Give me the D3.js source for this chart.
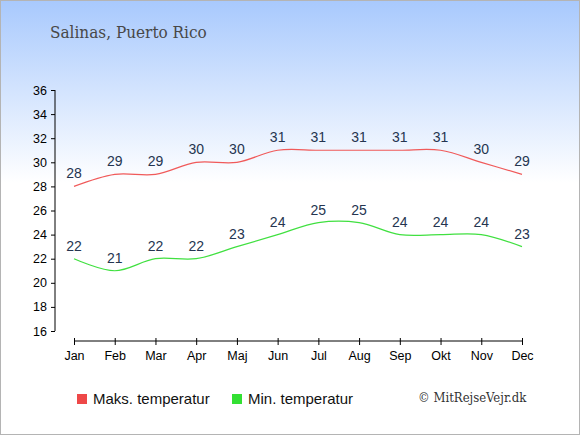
<!DOCTYPE html>
<html>
<head>
<meta charset="utf-8">
<script src="https://cdn.jsdelivr.net/npm/d3@7"></script>
<style>
  body { margin: 0; }
  svg { display: block; }
</style>
</head>
<body>
<svg id="chart"></svg>
<script>
const months = ['Jan', 'Feb', 'Mar', 'Apr', 'Maj', 'Jun', 'Jul', 'Aug', 'Sep', 'Okt', 'Nov', 'Dec'];
const maxTemp = [28, 29, 29, 30, 30, 31, 31, 31, 31, 31, 30, 29];
const minTemp = [22, 21, 22, 22, 23, 24, 25, 25, 24, 24, 24, 23];
const yTicks = [16, 18, 20, 22, 24, 26, 28, 30, 32, 34, 36];

const width = 580, height = 435;

const svg = d3.select('#chart')
    .attr('width', width)
    .attr('height', height);

// background gradient
const grad = svg.append('defs').append('linearGradient')
    .attr('id', 'bg')
    .attr('x1', 0).attr('y1', 0).attr('x2', 0).attr('y2', 1);
grad.append('stop').attr('offset', '0%').attr('stop-color', '#a8c9fd');
grad.append('stop').attr('offset', '42%').attr('stop-color', '#ffffff');
grad.append('stop').attr('offset', '100%').attr('stop-color', '#ffffff');

svg.append('rect')
    .attr('x', 0.5).attr('y', 0.5)
    .attr('width', width - 1).attr('height', height - 1)
    .attr('fill', 'url(#bg)')
    .attr('stroke', '#b4b4b4');

svg.append('text')
    .attr('x', 50).attr('y', 38)
    .attr('font-family', 'DejaVu Serif, serif')
    .attr('font-stretch', 'condensed')
    .attr('font-size', 17)
    .attr('fill', '#484848')
    .text('Salinas, Puerto Rico');

const xScale = d3.scalePoint()
    .domain(months)
    .range([74, 522]);

const yScale = d3.scaleLinear()
    .domain([16, 36])
    .range([331, 90]);

const yAxis = d3.axisLeft(yScale)
    .tickValues(yTicks)
    .tickSize(4)
    .tickPadding(4);

const xAxis = d3.axisBottom(xScale)
    .tickSize(4)
    .tickPadding(6);

svg.append('g')
    .attr('class', 'axis y-axis')
    .attr('transform', 'translate(55,0)')
    .call(yAxis)
    .call(g => g.select('.domain').attr('d', 'M0,90V331'));

const xAxisG = svg.append('g')
    .attr('class', 'axis x-axis')
    .attr('transform', 'translate(0,341)')
    .call(xAxis)
    .call(g => g.select('.domain').attr('d', 'M74,0H522'));
xAxisG.selectAll('.tick line').attr('y1', -3);

svg.selectAll('.axis text')
    .attr('font-family', 'Liberation Sans, Arial, sans-serif')
    .attr('font-size', 12.5)
    .attr('fill', '#000');
svg.selectAll('.axis line, .axis .domain')
    .attr('stroke', '#000');

const line = d3.line()
    .x((d, i) => xScale(months[i]))
    .y(d => yScale(d))
    .curve(d3.curveCatmullRom.alpha(0.5));

const series = [
  {name: 'Maks. temperatur', values: maxTemp, color: '#f05a5a', swatch: '#ee4848'},
  {name: 'Min. temperatur', values: minTemp, color: '#40e040', swatch: '#33e033'}
];

series.forEach(s => {
  svg.append('path')
      .datum(s.values)
      .attr('fill', 'none')
      .attr('stroke', s.color)
      .attr('stroke-width', 1.2)
      .attr('d', line);

  svg.append('g').selectAll('text')
      .data(s.values)
    .join('text')
      .attr('x', (d, i) => xScale(months[i]))
      .attr('y', d => yScale(d) - 8)
      .attr('text-anchor', 'middle')
      .attr('font-family', 'Liberation Sans, Arial, sans-serif')
      .attr('font-size', 14)
      .attr('fill', '#253550')
      .text(d => d);
});

// legend
const legend = svg.append('g');
const legendX = [77, 232];
series.forEach((s, i) => {
  legend.append('rect')
      .attr('x', legendX[i]).attr('y', 394)
      .attr('width', 10).attr('height', 10)
      .attr('fill', s.swatch);
  legend.append('text')
      .attr('x', legendX[i] + 16).attr('y', 404)
      .attr('font-family', 'Liberation Sans, Arial, sans-serif')
      .attr('font-size', 15)
      .attr('fill', '#111')
      .text(s.name);
});

svg.append('text')
    .attr('x', 418).attr('y', 402)
    .attr('font-family', 'DejaVu Serif, serif')
    .attr('font-stretch', 'condensed')
    .attr('font-size', 13)
    .attr('fill', '#333')
    .text('© MitRejseVejr.dk');
</script>
</body>
</html>
